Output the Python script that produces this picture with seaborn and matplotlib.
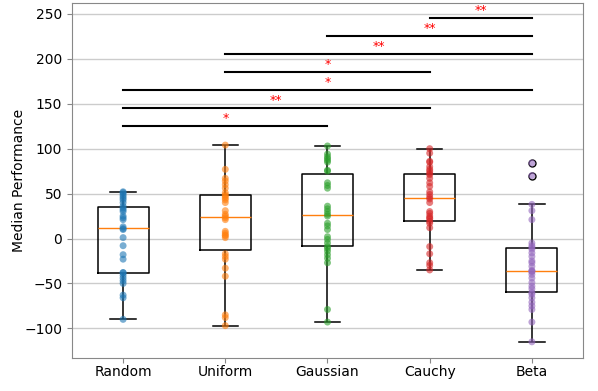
import numpy as np
import pandas as pd
import seaborn as sns
from matplotlib import pyplot as plt

# per-distribution median performance (30 runs each)
groups = ['Random', 'Uniform', 'Gaussian', 'Cauchy', 'Beta']

random_vals = [-90, -66, -63, -50, -47, -44, -41, -38, -38, -23, -18, -8, 1, 10, 11,
               13, 21, 23, 25, 30, 32, 34, 36, 40, 43, 45, 47, 49, 51, 52]
uniform_vals = [-97, -88, -85, -42, -33, -23, -20, -17, 1, 3, 4, 6, 8, 21, 23,
                25, 27, 31, 40, 43, 45, 47, 48.5, 51, 56, 60, 64, 67, 77, 104]
gaussian_vals = [-93, -79, -27, -22, -18, -14, -11, -9, -5, -1, 2, 10, 14, 17, 25,
                 27, 30, 33, 36, 56, 59, 62, 75, 76, 85, 87, 89, 91, 94, 103]
cauchy_vals = [-35, -30, -27, -17, -9, 12, 17, 19, 22, 23, 25, 28, 30, 40, 44,
               46, 49, 52, 58, 62, 67, 71, 72.5, 75, 77, 80, 85, 86, 95, 100]
beta_vals = [-115, -93, -79, -75, -71, -66, -62, -60, -56, -53, -49, -44, -40, -37, -36.5,
             -35.5, -31, -27, -25, -20, -16, -12, -10, -8, -5, 21, 31, 38, 70, 84]

# significance brackets: (group a, group b, height, stars)
pair_a = ['Random', 'Random', 'Random', 'Uniform', 'Uniform', 'Gaussian', 'Cauchy']
pair_b = ['Gaussian', 'Cauchy', 'Beta', 'Cauchy', 'Beta', 'Beta', 'Beta']
pair_h = [125, 145, 165, 185, 205, 225, 245]
pair_stars = ['*', '**', '*', '*', '**', '**', '**']

df = pd.DataFrame({
    'group': np.repeat(groups, 30),
    'value': random_vals + uniform_vals + gaussian_vals + cauchy_vals + beta_vals,
})

fig = plt.figure(figsize=(5.98, 3.91), dpi=100)
ax = fig.add_axes([0.1204, 0.0844, 0.8545, 0.9076])

sns.boxplot(data=df, x='group', y='value', order=groups, ax=ax,
            fill=False, color='black', width=0.5, linewidth=1.1,
            medianprops=dict(color='#ff7f0e', linewidth=1),
            flierprops=dict(marker='o', markerfacecolor='none',
                            markeredgecolor='black', markersize=5))
sns.stripplot(data=df, x='group', y='value', order=groups, hue='group',
              palette='tab10', jitter=False, size=5, alpha=0.6,
              legend=False, ax=ax, zorder=3)

for a, b, h, s in zip(pair_a, pair_b, pair_h, pair_stars):
    xa, xb = groups.index(a), groups.index(b)
    ax.plot([xa, xb], [h, h], color='black', lw=1.5)
    ax.text((xa + xb) / 2, h + 1.5, s, color='red', ha='center', va='bottom', fontsize=9)

ax.set_ylim(-133, 262)
ax.set_xlim(-0.5, 4.5)
ax.set_yticks([-100, -50, 0, 50, 100, 150, 200, 250])
ax.set_xlabel('')
ax.set_ylabel('Median Performance', fontsize=10, labelpad=-1)
ax.tick_params(labelsize=10, color='#888888')
ax.tick_params(axis='x', pad=1.5)
ax.yaxis.grid(True, color='#cccccc', lw=1)
ax.set_axisbelow(True)
for sp in ax.spines.values():
    sp.set_color('#888888')

plt.savefig('out.png', dpi=100)
